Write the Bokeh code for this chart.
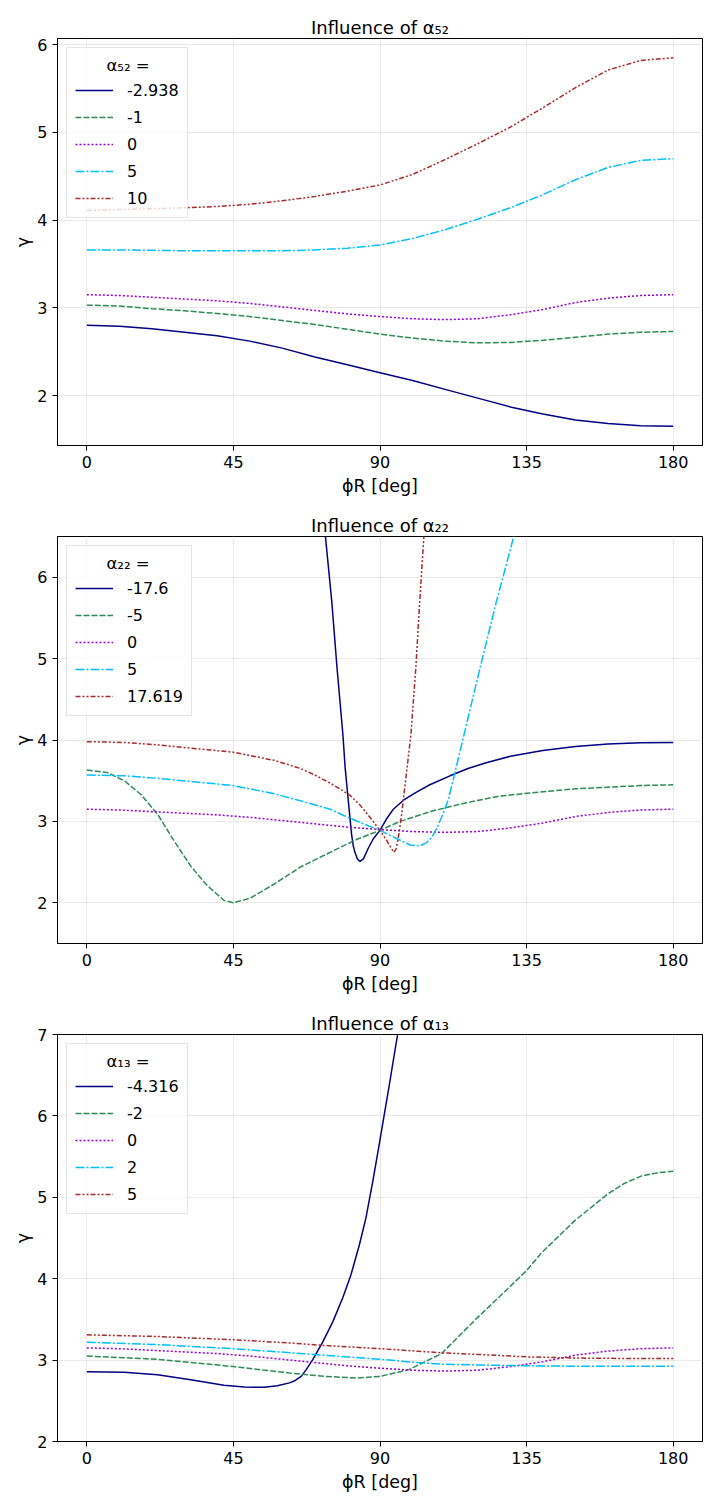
from bokeh.plotting import figure
from bokeh.layouts import column
from bokeh.models import Range1d, FixedTicker, Legend, LegendItem
from bokeh.embed import file_html
from bokeh.resources import INLINE

# ---------------- data ----------------
x_ticks = [0, 45, 90, 135, 180]
colors = ["#000080", "#2E8B57", "#9400D3", "#00BFFF", "#A52A2A"]
dashes = ["solid", "6 2", "2 2", "9 2 2 2", "5 2 2 2 2 2"]

x10 = [0, 10, 20, 30, 40, 50, 60, 70, 80, 90, 100, 110, 120, 130, 140, 150, 160, 170, 180]
base_y = [3.15, 3.14, 3.12, 3.10, 3.08, 3.05, 3.01, 2.97, 2.93, 2.90, 2.875, 2.865, 2.875,
          2.92, 2.98, 3.06, 3.11, 3.14, 3.15]

# Panel 1: alpha_52
a52_labels = ["-2.938", "-1", "0", "5", "10"]
a52_x = [x10, x10, x10, x10, x10]
a52_y = [
    [2.80, 2.79, 2.76, 2.72, 2.68, 2.62, 2.54, 2.44, 2.35, 2.26, 2.17, 2.07, 1.97, 1.87, 1.79, 1.72, 1.68, 1.655, 1.65],
    [3.03, 3.02, 2.99, 2.965, 2.935, 2.90, 2.855, 2.81, 2.755, 2.70, 2.655, 2.62, 2.60, 2.605, 2.63, 2.665, 2.70, 2.72, 2.73],
    base_y,
    [3.66, 3.66, 3.655, 3.65, 3.65, 3.65, 3.65, 3.66, 3.68, 3.715, 3.79, 3.89, 4.01, 4.14, 4.29, 4.46, 4.60, 4.68, 4.70],
    [4.11, 4.12, 4.13, 4.14, 4.155, 4.18, 4.22, 4.27, 4.33, 4.40, 4.52, 4.69, 4.87, 5.06, 5.28, 5.51, 5.71, 5.82, 5.85],
]

# Panel 2: alpha_22
a22_labels = ["-17.6", "-5", "0", "5", "17.619"]
a22_x = [
    [71.5, 73.2, 75.2, 76.8, 78.6, 79.3, 80.3, 81.3, 81.8, 82.3, 83.1, 83.9, 84.9, 86.4, 88, 90, 92, 94.1, 97.2,
     101.2, 105.3, 111.5, 117, 122.6, 130, 140, 150, 160, 170, 180],
    [0, 6.3, 11.5, 16.6, 21.7, 26.8, 31.9, 37, 42.1, 45, 50.3, 57.5, 65.6, 75.7, 82.9, 90, 96.1, 106.3, 116.5,
     126.6, 138.9, 150, 160, 170, 180],
    x10,
    [0, 11.5, 21.7, 31.9, 45, 57.5, 67.7, 74.7, 79, 84.9, 90, 95.1, 99.2, 101.2, 102.8, 104.3, 105.8, 107.4,
     109.4, 111, 112.4, 115.4, 120.5, 125.6, 131.2, 132.5],
    [0, 11.5, 21.7, 31.9, 45, 57.5, 65.6, 70, 74.7, 77.7, 80.8, 83.9, 86.9, 90, 92, 93.6, 94.3, 95.0, 95.6, 96.6,
     97.4, 98.2, 99.5, 101.0, 102.2, 103.5, 104.5],
]
a22_y = [
    [7.4, 6.52, 5.70, 4.89, 4.07, 3.66, 3.24, 2.83, 2.70, 2.62, 2.535, 2.51, 2.54, 2.67, 2.79, 2.89, 3.03, 3.15, 3.26,
     3.36, 3.45, 3.56, 3.65, 3.72, 3.80, 3.87, 3.92, 3.95, 3.965, 3.97],
    [3.63, 3.60, 3.50, 3.33, 3.09, 2.76, 2.45, 2.21, 2.03, 2.00, 2.06, 2.23, 2.44, 2.64, 2.78, 2.89, 3.00, 3.13, 3.23,
     3.31, 3.36, 3.40, 3.42, 3.44, 3.45],
    base_y,
    [3.57, 3.56, 3.53, 3.49, 3.44, 3.34, 3.23, 3.15, 3.07, 2.97, 2.89, 2.79, 2.71, 2.70, 2.71, 2.74, 2.80, 2.91,
     3.10, 3.27, 3.50, 4.00, 4.85, 5.68, 6.52, 6.72],
    [3.98, 3.97, 3.94, 3.90, 3.85, 3.75, 3.65, 3.57, 3.47, 3.40, 3.32, 3.20, 3.05, 2.89, 2.77, 2.66, 2.62, 2.67, 2.79,
     3.07, 3.35, 3.62, 4.07, 4.89, 5.70, 6.52, 7.20],
]

# Panel 3: alpha_13
a13_labels = ["-4.316", "-2", "0", "2", "5"]
a13_x = [
    [0, 11.5, 21.7, 31.9, 42.1, 48.3, 54.4, 58.5, 62.2, 64.0, 65.8, 67.3, 69.4, 72.4, 75.5, 78.6, 81.1, 83.7, 85.7,
     87.8, 89.8, 92.9, 95.4, 96.5],
    [0, 21.7, 45, 62.6, 72.8, 83, 90, 98.7, 108.9, 119.1, 129.3, 135, 139.4, 149.7, 159.9, 165, 170.1, 175, 180],
    x10,
    [0, 21.7, 45, 62.6, 72.8, 90, 101.5, 108.9, 120, 135, 150, 165, 180],
    [0, 21.7, 45, 62.6, 72.8, 90, 101.5, 108.9, 120, 135, 150, 165, 180],
]
a13_y = [
    [2.857, 2.85, 2.82, 2.76, 2.69, 2.67, 2.665, 2.685, 2.72, 2.75, 2.80, 2.88, 3.01, 3.22, 3.47, 3.77, 4.05, 4.42, 4.75,
     5.20, 5.66, 6.39, 7.0, 7.3],
    [3.05, 3.01, 2.92, 2.84, 2.80, 2.78, 2.80, 2.88, 3.08, 3.49, 3.88, 4.10, 4.31, 4.71, 5.04, 5.17, 5.26, 5.30, 5.32],
    base_y,
    [3.22, 3.19, 3.14, 3.09, 3.06, 3.01, 2.97, 2.95, 2.94, 2.93, 2.925, 2.925, 2.925],
    [3.31, 3.29, 3.25, 3.21, 3.18, 3.14, 3.11, 3.09, 3.07, 3.04, 3.025, 3.02, 3.02],
]

panels = [
    ("Influence of α₅₂", "α₅₂ =", a52_labels, a52_x, a52_y, (1.43, 6.07), [2, 3, 4, 5, 6]),
    ("Influence of α₂₂", "α₂₂ =", a22_labels, a22_x, a22_y, (1.5, 6.5), [2, 3, 4, 5, 6]),
    ("Influence of α₁₃", "α₁₃ =", a13_labels, a13_x, a13_y, (2.0, 7.0), [2, 3, 4, 5, 6, 7]),
]

FONT = "DejaVu Sans"
NBSP = "\u00a0"


def make_panel(title, ltitle, labels, xs, ys, yr, yt):
    p = figure(width=711, height=498, output_backend="svg", toolbar_location=None,
               x_range=Range1d(-9, 189), y_range=Range1d(*yr),
               min_border_left=57, min_border_right=9, min_border_top=38, min_border_bottom=52)
    p.title.text = title
    p.title.align = "center"
    p.title.text_font = FONT
    p.title.text_font_size = "18px"
    p.title.text_font_style = "normal"
    p.title.text_color = "black"
    p.title.standoff = 2
    p.outline_line_color = "black"
    p.outline_line_width = 1
    p.outline_line_alpha = 1
    for ax in (p.xaxis[0], p.yaxis[0]):
        ax.axis_line_color = "black"
        ax.major_tick_line_color = "black"
        ax.major_tick_out = 5
        ax.major_tick_in = 0
        ax.minor_tick_out = 0
        ax.minor_tick_in = 0
        ax.major_label_text_font = FONT
        ax.major_label_text_font_size = "16px"
        ax.major_label_text_color = "black"
        ax.axis_label_text_font = FONT
        ax.axis_label_text_font_size = "17.5px"
        ax.axis_label_text_font_style = "normal"
        ax.axis_label_text_color = "black"
    p.xaxis.ticker = FixedTicker(ticks=x_ticks)
    p.yaxis.ticker = FixedTicker(ticks=yt)
    p.xaxis.axis_label = "ϕR [deg]"
    p.yaxis.axis_label = "γ"
    p.xaxis.axis_label_standoff = 5
    p.yaxis.axis_label_standoff = 1
    p.grid.grid_line_color = "#e3e3e3"
    p.grid.grid_line_width = 0.8
    items = []
    for i in range(5):
        r = p.line(xs[i], ys[i], line_color=colors[i], line_width=1.5, line_dash=dashes[i])
        items.append(LegendItem(label=labels[i], renderers=[r]))
    leg = Legend(items=items, location="top_left", title=NBSP * 6 + ltitle)
    leg.title_text_font = FONT
    leg.title_text_font_size = "16.5px"
    leg.title_text_font_style = "normal"
    leg.title_text_color = "black"
    leg.label_text_font = FONT
    leg.label_text_font_size = "16px"
    leg.label_text_color = "black"
    leg.glyph_width = 38
    leg.glyph_height = 22
    leg.label_height = 22
    leg.label_standoff = 14
    leg.spacing = 5
    leg.padding = 8
    leg.margin = 9
    leg.title_standoff = 4
    leg.border_line_color = "#cccccc"
    leg.border_line_width = 1
    leg.background_fill_alpha = 0.8
    p.add_layout(leg)
    return p


figs = [make_panel(*pn) for pn in panels]
layout = column(*figs, spacing=0)

open("out.html", "w").write(file_html(layout, INLINE))
